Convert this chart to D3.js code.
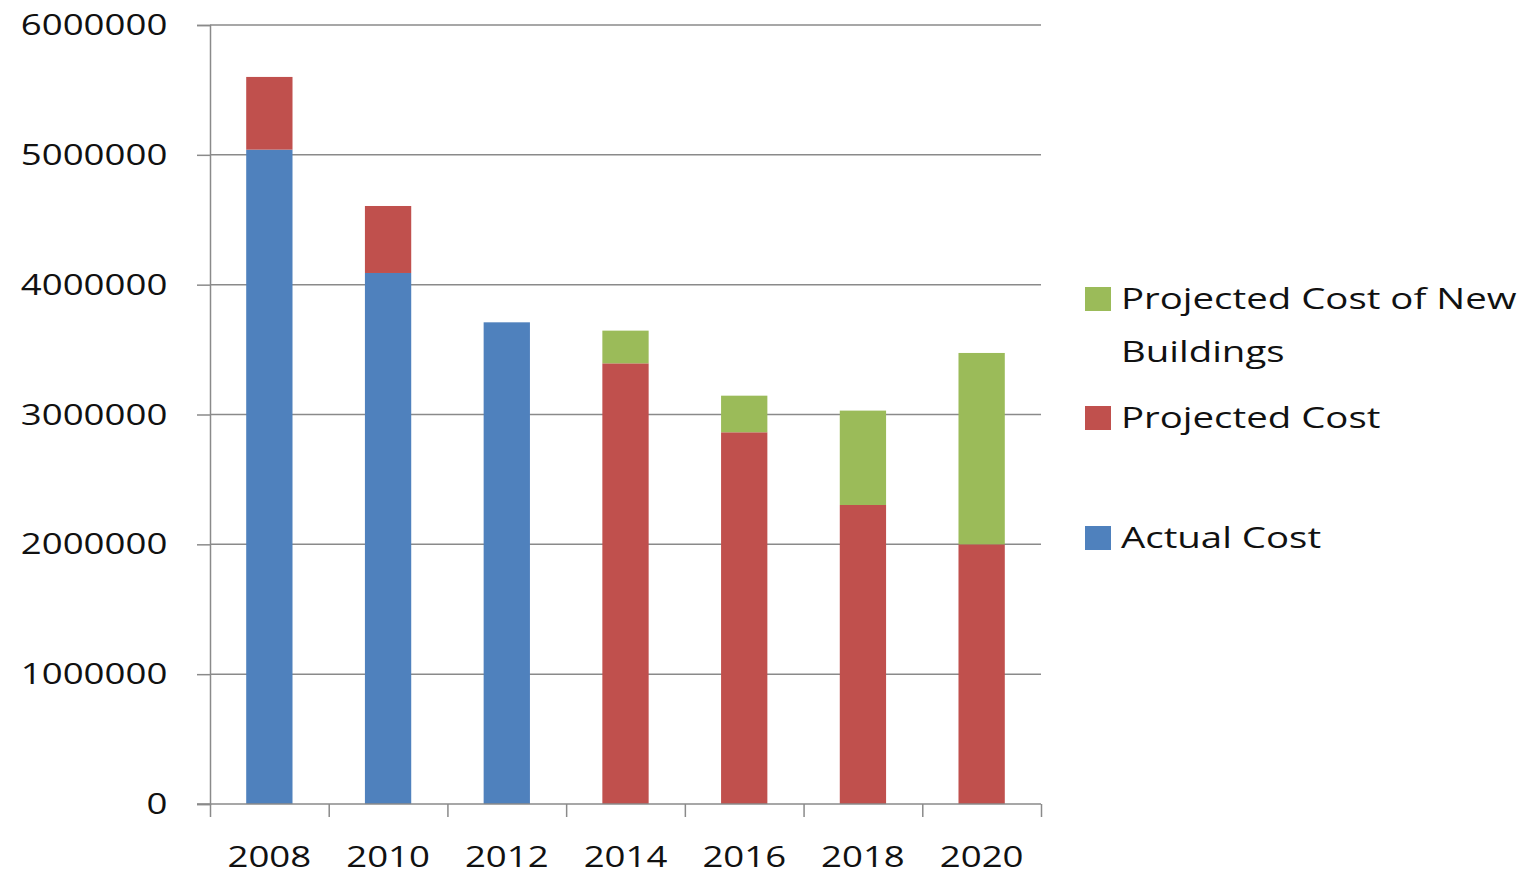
<!DOCTYPE html>
<html>
<head>
<meta charset="utf-8">
<script src="https://cdn.jsdelivr.net/npm/d3@7"></script>
<style>
  body { margin: 0; background: #fff; }
  text { font-family: "Open Sans", sans-serif; fill: #111; }
</style>
</head>
<body>
<div id="chart"></div>
<script>
// data
const years = ["2008", "2010", "2012", "2014", "2016", "2018", "2020"];
const actualCost = [5040000, 4090000, 3710000, 0, 0, 0, 0];
const projectedCost = [560000, 516000, 0, 3394000, 2863000, 2303000, 2000000];
const newBuildingsCost = [0, 0, 0, 252000, 282000, 727000, 1474000];
const seriesNames = ["Actual Cost", "Projected Cost", "Projected Cost of New Buildings"];
const yTicks = [0, 1000000, 2000000, 3000000, 4000000, 5000000, 6000000];

const width = 1533, height = 877,
      margin = ({top: 25, right: 492, bottom: 73, left: 210});
const sx = 1.22; // text in the picture is stretched sideways

const rows = years.map((y, i) => ({
    year: y,
    "Actual Cost": actualCost[i],
    "Projected Cost": projectedCost[i],
    "Projected Cost of New Buildings": newBuildingsCost[i]
}));

const stacked = d3.stack().keys(seriesNames)(rows);

const color = d3.scaleOrdinal()
    .domain(seriesNames)
    .range(["#4f81bd", "#c0504d", "#9bbb59"]);

let svg = d3.select("#chart")
    .append("svg")
    .attr("width", width)
    .attr("height", height);

let x = d3.scaleBand()
    .domain(years)
    .range([margin.left, width - margin.right])
    .paddingInner(0.61)
    .paddingOuter(0.305);

let y = d3.scaleLinear()
    .domain([0, 6000000])
    .range([height - margin.bottom, margin.top]);

// gridlines
svg.append("g")
    .selectAll("line")
    .data(yTicks.slice(1))
    .join("line")
    .attr("x1", margin.left)
    .attr("x2", width - margin.right)
    .attr("y1", d => y(d))
    .attr("y2", d => y(d))
    .attr("stroke", "#8a8a8a")
    .attr("stroke-width", 1.5);

// bars
svg.append("g")
    .selectAll("g")
    .data(stacked)
    .join("g")
    .attr("fill", d => color(d.key))
    .selectAll("rect")
    .data(d => d)
    .join("rect")
    .attr("x", d => x(d.data.year))
    .attr("width", x.bandwidth())
    .attr("y", d => y(d[1]))
    .attr("height", d => y(d[0]) - y(d[1]));

// y axis
let yAxis = svg.append("g")
    .attr("transform", `translate(${margin.left},0)`)
    .call(d3.axisLeft(y).tickValues(yTicks).tickFormat(d3.format("d")).tickSize(13).tickPadding(22));
yAxis.selectAll("path, line").attr("stroke", "#8a8a8a").attr("stroke-width", 1.5);
yAxis.selectAll("text")
    .attr("font-size", 30)
    .attr("font-family", "Open Sans")
    .attr("fill", "#111")
    .attr("transform", `scale(${sx},1)`);

// x axis: ticks sit between the bands
let xEdge = d3.scaleLinear().domain([0, years.length]).range([margin.left, width - margin.right]);
let xAxis = svg.append("g")
    .attr("transform", `translate(0,${height - margin.bottom})`);
xAxis.call(d3.axisBottom(xEdge).ticks(years.length).tickFormat("").tickSize(13).tickSizeOuter(0));
xAxis.select(".domain").attr("d", `M${margin.left - 13},0H${width - margin.right}`);
xAxis.selectAll("path, line").attr("stroke", "#8a8a8a").attr("stroke-width", 1.5);

let xLabels = svg.append("g")
    .attr("transform", `translate(0,${height - margin.bottom})`)
    .call(d3.axisBottom(x).tickSize(0).tickPadding(42));
xLabels.select(".domain").remove();
xLabels.selectAll("text")
    .attr("font-size", 30)
    .attr("font-family", "Open Sans")
    .attr("fill", "#111")
    .attr("transform", `scale(${sx},1)`);

// legend (reverse order, top to bottom)
const legendItems = [
    {name: seriesNames[2], lines: ["Projected Cost of New", "Buildings"], y: 287},
    {name: seriesNames[1], lines: ["Projected Cost"], y: 406},
    {name: seriesNames[0], lines: ["Actual Cost"], y: 526}
];
let legend = svg.append("g")
    .selectAll("g")
    .data(legendItems)
    .join("g")
    .attr("transform", d => `translate(1085,${d.y})`);
legend.append("rect")
    .attr("width", 26)
    .attr("height", 24)
    .attr("fill", d => color(d.name));
legend.append("text")
    .attr("font-size", 30)
    .attr("transform", `translate(36,0) scale(1.28,1)`)
    .selectAll("tspan")
    .data(d => d.lines)
    .join("tspan")
    .attr("x", 0)
    .attr("y", (d, i) => 22 + i * 53)
    .text(d => d);
</script>
</body>
</html>
